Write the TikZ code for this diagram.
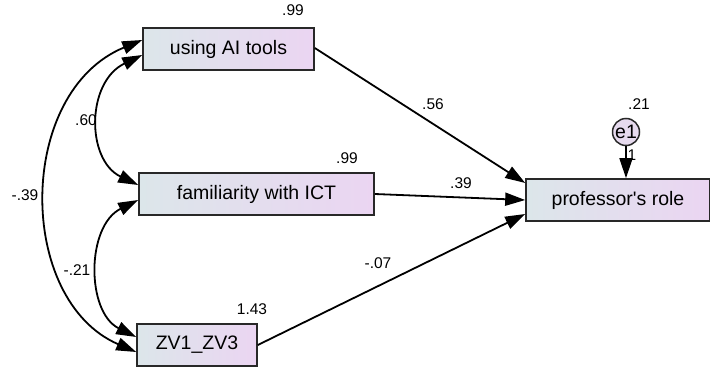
\documentclass[tikz,border=0pt]{standalone}
\usepackage{fontspec}
\newfontfamily\diagfont{Liberation Sans}
\usetikzlibrary{arrows.meta}
\definecolor{boxL}{RGB}{220,230,234}
\definecolor{boxR}{RGB}{235,213,242}
\definecolor{errfill}{RGB}{230,218,238}
\definecolor{edge}{RGB}{40,40,40}
\tikzset{
  var/.style={draw=edge, line width=1.6pt, left color=boxL, right color=boxR,
    minimum height=42pt, inner sep=0pt, font=\diagfont\fontsize{19.5}{21}\selectfont},
  err/.style={circle, draw=edge, line width=1.5pt, fill=errfill, minimum size=27pt,
    inner sep=0pt, font=\diagfont\fontsize{19.5}{21}\selectfont},
  path/.style={line width=1.8pt, -{Triangle[length=20pt,width=13pt]}},
  cov/.style={line width=1.8pt, {Triangle[length=20pt,width=13pt]}-{Triangle[length=20pt,width=13pt]}},
  est/.style={font=\diagfont\fontsize{15.5}{17}\selectfont, inner sep=0pt}
}
\begin{document}
\begin{tikzpicture}[x=1pt, y=-1pt]
\useasboundingbox (0,0) rectangle (710,367);

% observed variables
\node[var, minimum width=171pt] (ai)   at (228.5,49)  {using AI tools};
\node[var, minimum width=235pt] (ict)  at (256.5,194) {familiarity with ICT};
\node[var, minimum width=120pt] (zv)   at (197,345)   {ZV1\_ZV3};
\node[var, minimum width=184pt] (prof) at (618,200)   {professor's role};

% error term
\node[err] (e1) at (626,132) {e1};

% regression paths
\draw[path] ([yshift=1pt]ai.east) -- ([yshift=17pt]prof.west);
\draw[path] (ict.east) -- (prof.west);
\draw[path] (zv.east) -- ([yshift=-14pt]prof.west);
\draw[path] (e1.south) -- (e1.south |- prof.north);

% covariances
\draw[cov] ([yshift=-6pt]ai.west) .. controls (86,82) and (86,160) .. ([yshift=9pt]ict.west);
\draw[cov] ([yshift=-6pt]ict.west) .. controls (86,226) and (86,312) .. ([yshift=8pt]zv.west);
\draw[cov] ([yshift=9pt]ai.west) .. controls (16,92) and (16,300) .. ([yshift=-7pt]zv.west);

% estimates
\node[est] (v1) at (293,10)  {.99};
\node[est] (v2) at (347,158) {.99};
\node[est] (v3) at (252,309) {1.43};
\node[est] (r2) at (639,104) {.21};
\node[est] (w1) at (632,155) {1};
\node[est] (b1) at (433,104) {.56};
\node[est] (b2) at (461,183) {.39};
\node[est] (b3) at (378,263) {-.07};
\node[est] (c1) at (86,120)  {.60};
\node[est] (c2) at (25,195)  {-.39};
\node[est] (c3) at (77,270)  {-.21};
\end{tikzpicture}
\end{document}
